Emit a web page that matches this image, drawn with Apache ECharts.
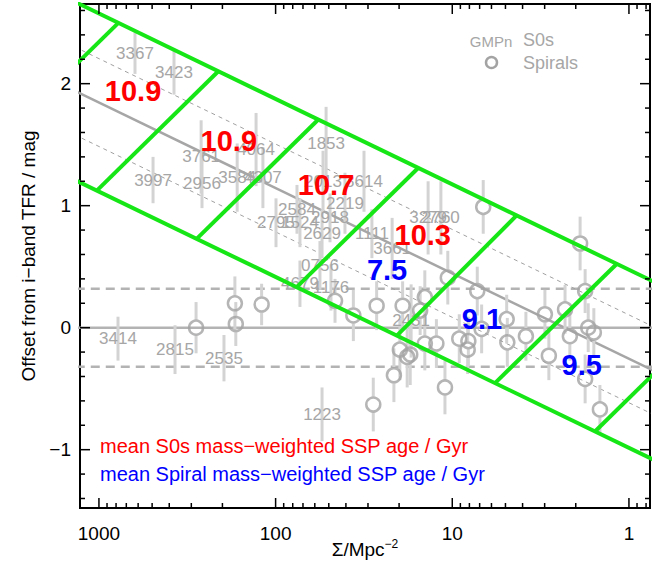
<!DOCTYPE html>
<html><head><meta charset="utf-8">
<script src="https://cdn.jsdelivr.net/npm/echarts@6/dist/echarts.min.js"></script>
<style>html,body{margin:0;padding:0;background:#fff}#c{width:670px;height:566px}</style>
</head><body><div id="c"></div>
<script>
// ---------- data ----------
const s0Names  = ['3367','3423','3761','4064','3997','2956','3584','4307','1853','2013','3614','2219','2584','2795','1524','2918','2629','1111','3279','2760','3661','0756','4679','1176','3414','2815','2535','1223','2431'];
const s0Sigma  = [625,376,264,129,494,261,165,118,51.8,53.9,31.6,40.5,75.7,99.5,72.8,49.2,54.6,28.5,13.7,11.6,21.9,56.1,72.8,48.6,780,371,196,54.6,17.1];
const s0Offset = [2.25,2.09,1.40,1.46,1.21,1.18,1.23,1.23,1.51,1.20,1.20,1.02,0.97,0.86,0.86,0.90,0.77,0.77,0.90,0.90,0.65,0.51,0.36,0.33,-0.09,-0.18,-0.25,-0.71,0.055];
const s0Err    = [0.17,0.18,0.30,0.30,0.19,0.20,0.28,0.25,0.30,0.25,0.25,0.25,0.20,0.20,0.20,0.20,0.20,0.20,0.30,0.30,0.25,0.20,0.19,0.19,0.18,0.20,0.19,0.22,0.30];

const spSigma  = [282,170,168,120,46.1,36.3,26.8,19.1,14.3,15.2,6.68,1.89,10.6,7.22,1.77,4.92,2.99,2.30,6.82,14.3,12.3,9.13,8.11,8.18,4.88,3.83,2.16,1.70,1.58,19.8,17.3,18.0,2.84,21.4,1.77,11.0,28.0,1.46];
const spOffset = [0.00,0.20,0.03,0.19,0.22,0.10,0.18,0.18,0.25,0.14,0.99,0.69,0.41,0.30,0.30,0.07,0.11,0.15,-0.01,-0.13,-0.13,-0.09,-0.11,-0.18,-0.12,-0.07,-0.07,0.00,-0.04,-0.18,-0.22,-0.24,-0.23,-0.39,-0.42,-0.49,-0.63,-0.67];
const spErr    = [0.21,0.22,0.18,0.17,0.18,0.21,0.20,0.20,0.22,0.20,0.22,0.22,0.22,0.20,0.18,0.20,0.20,0.20,0.20,0.22,0.20,0.20,0.20,0.20,0.20,0.20,0.20,0.20,0.20,0.25,0.25,0.25,0.20,0.22,0.20,0.22,0.22,0.20];

const ageS0Labels = ['10.9','10.9','10.7','10.3'];
const ageS0Sigma  = [641,184,51.8,14.7];
const ageS0Y      = [1.94,1.53,1.17,0.76];
const ageSpLabels = ['7.5','9.1','9.5'];
const ageSpSigma  = [23.4,6.79,1.85];
const ageSpY      = [0.473,0.071,-0.306];

// relation lines (endpoints)
const relLine      = [[2000,2.056],[0.5,-0.466]];
const relUpperDash = [[2000,2.416],[0.5,-0.106]];
const relLowerDash = [[2000,1.696],[0.5,-0.826]];
const bandUpper    = [[2000,2.786],[0.5,0.264]];
const bandLower    = [[2000,1.326],[0.5,-1.196]];
const zeroLine     = [[2000,0],[0.5,0]];
const scatterUp    = [[2000,0.32],[0.5,0.32]];
const scatterDown  = [[2000,-0.32],[0.5,-0.32]];
const binLines = [
  [[3787,1.520],[776,2.498]],
  [[1028,1.123],[211,2.102]],
  [[280,0.728],[57.3,1.706]],
  [[76.0,0.332],[15.6,1.309]],
  [[20.6,-0.065],[4.32,0.920]],
  [[5.73,-0.454],[1.17,0.524]],
  [[1.557,-0.851],[0.319,0.128]]
];

// axes
const xMin = 0.76, xMax = 1280, yMin = -1.478, yMax = 2.653;
const xMajorTicks = [1000,100,10,1];
const xTickLabels = ['1000','100','10','1'];
const xMinorTicks = [900,800,700,600,500,400,300,200,90,80,70,60,50,40,30,20,9,8,7,6,5,4,3,2,0.9,0.8];
const yMajorTicks = [-1,0,1,2];
const yTickLabels = ['\u22121','0','1','2'];
const yMinorTicks = [-1.4,-1.2,-0.8,-0.6,-0.4,-0.2,0.2,0.4,0.6,0.8,1.2,1.4,1.6,1.8,2.2,2.4,2.6];

// ---------- rendering ----------
const FONT = '"Liberation Sans", Arial, Helvetica, sans-serif';
const GREY_TXT = '#a6a6a6';
const chart = echarts.init(document.getElementById('c'), null, {renderer:'svg', width:670, height:566});

function lineSeries(data, color, width, type, z){
  return {type:'line', data:data, symbol:'none', clip:true, silent:true, z:z,
    lineStyle:{color:color, width:width, type:type}, animation:false};
}

function errRender(gap, color){
  return function(params, api){
    const s = api.value(0), y = api.value(1), e = api.value(2);
    const p = api.coord([s,y]), hi = api.coord([s,y+e]), lo = api.coord([s,y-e]);
    const st = {stroke:color, lineWidth:3};
    if (gap > 0){
      return {type:'group', children:[
        {type:'line', shape:{x1:p[0],y1:hi[1],x2:p[0],y2:p[1]-gap}, style:st},
        {type:'line', shape:{x1:p[0],y1:p[1]+gap,x2:p[0],y2:lo[1]}, style:st}
      ]};
    }
    return {type:'line', shape:{x1:p[0],y1:hi[1],x2:p[0],y2:lo[1]}, style:st};
  };
}

function textRender(labels, font, color){
  return function(params, api){
    const p = api.coord([api.value(0), api.value(1)]);
    return {type:'text', x:p[0], y:p[1], style:{text:labels[params.dataIndex], font:font, fill:color,
      align:'center', verticalAlign:'middle', textAlign:'center', textVerticalAlign:'middle'}};
  };
}

function xTickRender(major){
  return function(params, api){
    const cs = params.coordSys;
    const v = api.value(0);
    const px = api.coord([v, 0])[0];
    const len = major ? 10 : 5;
    const st = {stroke:'#000', lineWidth:1.5};
    const ch = [
      {type:'line', shape:{x1:px,y1:cs.y+cs.height,x2:px,y2:cs.y+cs.height-len}, style:st},
      {type:'line', shape:{x1:px,y1:cs.y,x2:px,y2:cs.y+len}, style:st}
    ];
    if (major){
      ch.push({type:'text', x:px, y:cs.y+cs.height+25, style:{text:xTickLabels[params.dataIndex], font:'19px '+FONT, fill:'#000',
        align:'center', verticalAlign:'middle', textAlign:'center', textVerticalAlign:'middle'}});
    }
    return {type:'group', children:ch};
  };
}
function yTickRender(major){
  return function(params, api){
    const cs = params.coordSys;
    const v = api.value(1);
    const py = api.coord([10, v])[1];
    const len = major ? 10 : 5;
    const st = {stroke:'#000', lineWidth:1.5};
    const ch = [
      {type:'line', shape:{x1:cs.x,y1:py,x2:cs.x+len,y2:py}, style:st},
      {type:'line', shape:{x1:cs.x+cs.width,y1:py,x2:cs.x+cs.width-len,y2:py}, style:st}
    ];
    if (major){
      ch.push({type:'text', x:cs.x-9, y:py, style:{text:yTickLabels[params.dataIndex], font:'19px '+FONT, fill:'#000',
        align:'right', verticalAlign:'middle', textAlign:'right', textVerticalAlign:'middle'}});
    }
    return {type:'group', children:ch};
  };
}

const series = [
  lineSeries(zeroLine, '#b3b3b3', 2.5, 'solid', 1),
  lineSeries(scatterUp, '#b3b3b3', 2.5, [9,6], 1),
  lineSeries(scatterDown, '#b3b3b3', 2.5, [9,6], 1),
  lineSeries(relUpperDash, '#a0a0a0', 1, [4,4], 1),
  lineSeries(relLowerDash, '#a0a0a0', 1, [4,4], 1),
  lineSeries(relLine, '#a6a6a6', 2.5, 'solid', 1),
  {type:'custom', name:'S0 err', coordinateSystem:'cartesian2d', clip:true, z:2, silent:true,
    data:s0Sigma.map((s,i)=>[s,s0Offset[i],s0Err[i]]), encode:{x:0,y:1}, renderItem:errRender(0,'#d3d3d3')},
  {type:'custom', name:'Spiral err', coordinateSystem:'cartesian2d', clip:true, z:2, silent:true,
    data:spSigma.map((s,i)=>[s,spOffset[i],spErr[i]]), encode:{x:0,y:1}, renderItem:errRender(8,'#d3d3d3')},
  {type:'scatter', name:'Spirals', data:spSigma.map((s,i)=>[s,spOffset[i]]), symbol:'circle', symbolSize:14, z:3, silent:true,
    itemStyle:{color:'rgba(0,0,0,0)', borderColor:'#a3a3a3', borderWidth:2.5}},
  {type:'custom', name:'S0s', coordinateSystem:'cartesian2d', clip:false, z:3, silent:true,
    data:s0Sigma.map((s,i)=>[s,s0Offset[i]]), encode:{x:0,y:1}, renderItem:textRender(s0Names,'17px '+FONT,GREY_TXT)}
].concat(
  [bandUpper, bandLower].concat(binLines).map(d => lineSeries(d, '#16e616', 4, 'solid', 4))
).concat([
  {type:'custom', name:'S0 age', coordinateSystem:'cartesian2d', clip:false, z:6, silent:true,
    data:ageS0Sigma.map((s,i)=>[s,ageS0Y[i]]), encode:{x:0,y:1}, renderItem:textRender(ageS0Labels,'bold 29px '+FONT,'#ff0000')},
  {type:'custom', name:'Spiral age', coordinateSystem:'cartesian2d', clip:false, z:6, silent:true,
    data:ageSpSigma.map((s,i)=>[s,ageSpY[i]]), encode:{x:0,y:1}, renderItem:textRender(ageSpLabels,'bold 29px '+FONT,'#0000ff')},
  {type:'custom', coordinateSystem:'cartesian2d', clip:false, z:8, silent:true,
    data:xMajorTicks.map(v=>[v,0]), encode:{x:0,y:1}, renderItem:xTickRender(true)},
  {type:'custom', coordinateSystem:'cartesian2d', clip:false, z:8, silent:true,
    data:xMinorTicks.map(v=>[v,0]), encode:{x:0,y:1}, renderItem:xTickRender(false)},
  {type:'custom', coordinateSystem:'cartesian2d', clip:false, z:8, silent:true,
    data:yMajorTicks.map(v=>[10,v]), encode:{x:0,y:1}, renderItem:yTickRender(true)},
  {type:'custom', coordinateSystem:'cartesian2d', clip:false, z:8, silent:true,
    data:yMinorTicks.map(v=>[10,v]), encode:{x:0,y:1}, renderItem:yTickRender(false)}
]);

const txt = (x,y,text,font,fill,align,extra) => Object.assign({type:'text', x:x, y:y, silent:true, z:100,
  style:{text:text, font:font, fill:fill, align:align||'left', verticalAlign:'middle', textAlign:align||'left', textVerticalAlign:'middle'}}, extra||{});

const option = {
  animation:false,
  backgroundColor:'#ffffff',
  grid:{left:80, right:20, top:4, bottom:58, show:true, borderColor:'#000', borderWidth:2, backgroundColor:'transparent'},
  xAxis:{type:'log', logBase:10, inverse:true, min:xMin, max:xMax,
    axisLine:{show:false}, axisTick:{show:false}, axisLabel:{show:false}, splitLine:{show:false}, minorTick:{show:false}},
  yAxis:{type:'value', min:yMin, max:yMax,
    axisLine:{show:false}, axisTick:{show:false}, axisLabel:{show:false}, splitLine:{show:false}},
  series:series,
  graphic:[
    txt(491, 41, 'GMPn', '15px '+FONT, GREY_TXT, 'center'),
    txt(523, 40, 'S0s', '18px '+FONT, GREY_TXT, 'left'),
    {type:'circle', shape:{cx:491.5, cy:62.5, r:5.5}, style:{fill:'none', stroke:'#a3a3a3', lineWidth:2.5}, silent:true, z:100},
    txt(523, 63, 'Spirals', '18px '+FONT, GREY_TXT, 'left'),
    txt(100, 446, 'mean S0s mass\u2212weighted SSP age / Gyr', '20px '+FONT, '#ff0000', 'left'),
    txt(100, 474, 'mean Spiral mass\u2212weighted SSP age / Gyr', '20px '+FONT, '#0000ff', 'left'),
    txt(28, 256, 'Offset from i\u2212band TFR / mag', '19px '+FONT, '#000', 'center', {rotation:Math.PI/2}),
    {type:'text', x:365, y:549, silent:true, z:100,
      style:{text:'{a|\u03A3/Mpc}{b|\u22122}', fill:'#000', align:'center', verticalAlign:'middle', textAlign:'center', textVerticalAlign:'middle',
        rich:{a:{font:'19px '+FONT, fill:'#000', fontSize:19, fontFamily:FONT, color:'#000'}, b:{fontSize:12, fontFamily:FONT, color:'#000', fill:'#000', verticalAlign:'top', padding:[0,0,10,0]}}}}
  ]
};
chart.setOption(option);
</script>
</body></html>
